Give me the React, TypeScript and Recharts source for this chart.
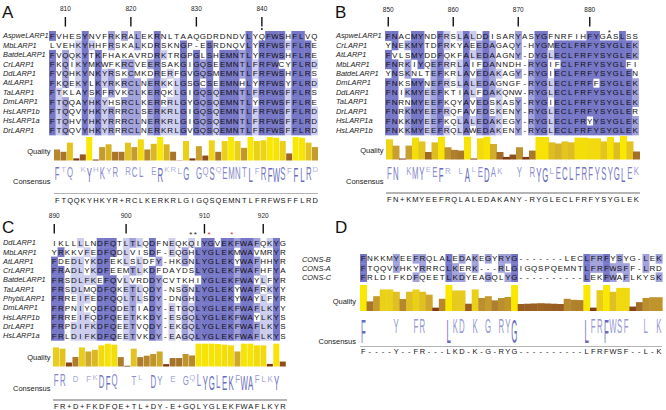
import React from 'react';
import { ScatterChart, Scatter, BarChart, Bar, Cell, XAxis, YAxis } from 'recharts';

const FONT = '"Liberation Sans", Arial, Helvetica, sans-serif';

// ---------- panel A ----------
const namesA = ['AspweLARP1', 'MbLARP1', 'BatdeLARP1', 'CrLARP1', 'DdLARP1', 'AtLARP1', 'TaLARP1', 'DmLARP1', 'HsLARP1b', 'HsLARP1a', 'DrLARP1'];
const seqA = [
  'FVHESYNVFRKRALEKRNLTAAQGDRDNDVLYQFWSHFLVQ',
  'LVEHKYHHFRSKALKDRSKNGP-ESRDNQVLYRFWSFFLRE',
  'FVQQKYTKFHAKAVRDRKTRGPGLSHEMNTLYRFWSHFLRE',
  'FKQIKYMKWFKRCVEERSAKGIGQSEEMNTLFRFWCYFLRD',
  'FVQHKYNKYRSKCMKDRERFGVGQSMEMNTLFRFWSHFLRS',
  'FKQEKYLKYRKRCLNERKKLGSGCSEEMNHLYRFWSYFLRD',
  'FTKLAYSKFRVKCLKERQKLGIGQSQEMNTLFRFWSFFLRS',
  'FTQQAYHKYHSRCLKERRRLGYGQSQEMNTLYRFWSFFLRE',
  'FTQQVYHKYRRRCLSERKRLGIGQSQEMNTLFRFWSFFLRD',
  'FTQHVYHKYRRRCLNERKRLGIGQSQEMNTLFRFWSFFLRD',
  'FTQQVYHKYRRRCLNERKRLGVGQSQEMNTLFRFWSFFLRD',
];
const consA = 'FTQQKYHKYR+RCLKERKRLGIGQSQEMNTLFRFWSFFLRD';
const qualityA = [47, 37, 76, 9, 26, 100, 4, 57, 69, 37, 37, 76, 57, 90, 47, 71, 100, 69, 37, 1, 83, 9, 61, 21, 86, 37, 83, 100, 83, 54, 100, 83, 86, 100, 97, 83, 30, 100, 97, 76, 57];
const tickColsA = [2, 12, 22, 32];
const tickLabelsA = ['810', '820', '830', '840'];
const marksA = [{ c: 32, kind: 'dot' }];

// ---------- panel B ----------
const namesB = ['AspweLARP1', 'CrLARP1', 'AtLARP1', 'MbLARP1', 'BatdeLARP1', 'DmLARP1', 'DdLARP1', 'TaLARP1', 'DrLARP1', 'HsLARP1a', 'HsLARP1b'];
const seqB = [
  'FNACMYNDFRSLALDDISARYASYGFNRFIHFYGASLSS',
  'YNEKMYTDFRKYAEEDAGAQY-HYGMECLFRFYSYGLEK',
  'FVLSMYDDFQKFALEDAAGNY-DYGLECLFRFYSYGLEK',
  'FNRKIYQEFRRLAIFDANNDH-RYGIFCLFRFYSYGLFI',
  'YNSKNLTEFKRLAVEDAKAGY-RYGIECLFRFYSYGLEN',
  'FNKSMYNEFRSLALEDAGNGF-RYGLECLFRFFSYGLEK',
  'FNIKMYEEFKTIALFDAKQNW-RYGLECLFRFYSYGLEK',
  'FNRNMYEEFKQYAVEDSKASY-RYGIECLFRFYSYGLEK',
  'FNRKMYEEFRQFAVEDSKENY-RYGLECLFRFYSYGLER',
  'FNKKMYEEFKQLALEDAKEGY-RYGLECLFRYYSYGLEK',
  'FNKKMYEEFRQLAWEDAKENY-RYGLECLFRFYSYGLEK',
];
const consB = 'FN+KMYEEFRQLALEDAKANY-RYGLECLFRFYSYGLEK';
const qualityB = [86, 59, 4, 59, 93, 77, 32, 73, 97, 52, 41, 38, 97, 4, 90, 97, 66, 32, 11, 21, 52, 11, 38, 96, 96, 73, 68, 77, 73, 93, 93, 90, 90, 77, 96, 73, 100, 77, 34];
const tickColsB = [0, 10, 20, 31];
const tickLabelsB = ['850', '860', '870', '880'];
const marksB = [{ c: 34, kind: 'star' }];

// ---------- panel C ----------
const namesC = ['DdLARP1', 'MbLARP1', 'AtLARP1', 'CrLARP1', 'BatdeLARP1', 'TaLARP1', 'PhyblLARP1', 'DmLARP1', 'HsLARP1b', 'DrLARP1', 'HsLARP1a'];
const seqC = [
  'IKLLLLNDFQTLTLQDFNEQKQIYGVEKFWAFQKYG',
  'YRKKVFEDFQDLVISDF-EQGHLYGLEKMWAVMRYR',
  'FDEDLYKDFEKLSLDFY-HKGNLYGLEKYWAFHHYR',
  'FRADLYKDFEEMTLKDFDAYDSLYGLEKFWAFHFYA',
  'FRSDLFKEFQVLVRDDYCVTKHIYGLEKFWAYLFYR',
  'FRSDLMQDFQKETLQDY-NSGNLYGLEKYWAFRKYY',
  'FRREIFEDFQQLTLSDY-DNGHLYGLEKYWAYLFYR',
  'FRPNIYQDFQDETIADY-ETGQLYGLEKFWAFLKYY',
  'FRREIFQDFQEETKKDY-ESGQLYGLEKFWAYLKYS',
  'FRPDIFKDFQEETVQDY-EKGQLYGLEKFWAFLKYS',
  'FRLDIFKDFQEETVKDY-EAGQLYGLEKFWAFLKYS',
];
const consC = 'FR+D+FKDFQE+TL+DY-E+GQLYGLEKFWAFLKYR';
const qualityC = [81, 76, 17, 40, 81, 64, 71, 90, 97, 93, 40, 3, 76, 40, 46, 53, 64, 10, 36, 36, 53, 47, 97, 97, 97, 96, 93, 90, 64, 97, 97, 90, 90, 11, 97, 21];
const tickColsC = [0, 11, 23, 32];
const tickLabelsC = ['890', '900', '910', '920'];
const marksC = [
  { c: 20.9, kind: 'blk' },
  { c: 21.6, kind: 'blk' },
  { c: 23.7, kind: 'red' },
  { c: 27.2, kind: 'red' },
];

// ---------- panel D ----------
const namesD = ['CONS-B', 'CONS-A', 'CONS-C'];
const seqD = [
  'FNKKMYEEFRQLALEDAKEGYRYG-------LECLFRFYSYG-LEK',
  'FTQQVYHKYRRRCLKERK---RLGIGQSPQEMNTLFRFWSFF-LRD',
  'FRLDIFKDFQEETLKDYEAGQLYG----------LEKFWAFLKYSK',
];
const consD = 'F----Y--FR---LKD-K-G-RYG----------LFRFWSF--L-K';
const qualityD = [100, 37, 57, 83, 83, 74, 46, 74, 83, 74, 63, 13, 47, 100, 79, 79, 28, 83, 50, 57, 41, 50, 54, 100, 27, 28, 29, 30, 29, 28, 27, 47, 43, 42, 100, 13, 80, 100, 74, 89, 89, 17, 34, 50, 53, 53];

// ---------- layout ----------
const layoutA = { x: 49, pitch: 6.55, ax: 53.5, ap: 6.45, head: 0.5, row0: 35.5, rowH: 9.45, qTop: 136.5, qH: 23.5, logoTop: 167, logoH: 15, lineY: 193.5, consY: 199.5, nameX: 3, labelX: 50.5, tag: 'A', tagX: 2, tagY: 18 };
const layoutB = { x: 385.3, pitch: 6.5, ax: 386, ap: 6.5, head: 0.5, row0: 35.5, rowH: 9.45, qTop: 136, qH: 23.5, logoTop: 167, logoH: 15, lineY: 193, consY: 199, nameX: 336, labelX: 383.5, tag: 'B', tagX: 335, tagY: 18 };
const layoutC = { x: 51, pitch: 6.53, ax: 53.3, ap: 6.48, head: 207.5, row0: 242.5, rowH: 9.3, qTop: 343, qH: 23.5, logoTop: 375, logoH: 14.5, lineY: 400, consY: 405.5, nameX: 3, labelX: 50.5, tag: 'C', tagX: 2, tagY: 233 };
const layoutD = { x: 359.7, pitch: 6.57, ax: 359.7, ap: 6.57, head: -1, row0: 259, rowH: 9.2, qTop: 285, qH: 26, logoTop: 318.5, logoH: 23.5, lineY: 346.5, consY: 350.5, nameX: 302, labelX: 356, tag: 'D', tagX: 335, tagY: 233 };

type Lay = typeof layoutA;

const PAD = 8;
const MP = { top: PAD, right: PAD, bottom: PAD, left: PAD };
const PID = ['#7777c7', '#a1a1db', '#cdcdee'];

// percentage identity per column (Jalview-style shading)
function columnStats(seqs: string[]) {
  const n = seqs[0].length;
  return Array.from({ length: n }, (_, c) => {
    const counts: Record<string, number> = {};
    for (const s of seqs) {
      const ch = s[c];
      if (ch !== '-') counts[ch] = (counts[ch] || 0) + 1;
    }
    const best = Math.max(0, ...Object.values(counts));
    const top = Object.keys(counts).filter((k) => counts[k] === best);
    return { top, frac: best / seqs.length };
  });
}

function pidColor(ch: string, st: { top: string[]; frac: number }) {
  if (ch === '-' || !st.top.includes(ch)) return null;
  if (st.frac > 0.8) return PID[0];
  if (st.frac > 0.6) return PID[1];
  if (st.frac > 0.4) return PID[2];
  return null;
}

const QSTOPS: [number, number[]][] = [
  [0, [106, 30, 14]],
  [0.2, [140, 74, 28]],
  [0.4, [173, 125, 44]],
  [0.6, [201, 160, 46]],
  [0.8, [232, 204, 28]],
  [1, [251, 232, 0]],
];

function qualColor(v: number) {
  const t = Math.max(0, Math.min(1, v / 100));
  for (let i = 1; i < QSTOPS.length; i++) {
    const [t1, c1] = QSTOPS[i];
    const [t0, c0] = QSTOPS[i - 1];
    if (t <= t1) {
      const k = (t - t0) / (t1 - t0);
      const c = c0.map((v0, j) => Math.round(v0 + (c1[j] - v0) * k));
      return `rgb(${c[0]},${c[1]},${c[2]})`;
    }
  }
  return 'rgb(251,232,0)';
}

function logoColor(f: number) {
  const t = Math.max(0, Math.min(1, (f - 0.4) / 0.6));
  const a = [186, 186, 228];
  const b = [104, 108, 192];
  const c = a.map((v, i) => Math.round(v + (b[i] - v) * t));
  return `rgb(${c[0]},${c[1]},${c[2]})`;
}

// wrapper that offsets a padded chart so its plot area starts at (left, top)
function At({ left, top, children }: { left: number; top: number; children: React.ReactNode }) {
  return <div style={{ position: 'absolute', left: left - PAD, top: top - PAD }}>{children}</div>;
}

function HeaderStrip({ lay, n, cols, labels, marks }: { lay: Lay; n: number; cols: number[]; labels: string[]; marks: { c: number; kind: string }[] }) {
  const data = [
    ...cols.map((c, i) => ({ c, r: 0, kind: 'tick', label: labels[i] })),
    ...marks.map((m) => ({ c: m.c, r: 0, kind: m.kind, label: '' })),
  ];
  return (
    <At left={lay.x} top={lay.head}>
      <ScatterChart width={n * lay.pitch + 2 * PAD} height={30 + 2 * PAD} margin={MP}>
        <XAxis type="number" dataKey="c" domain={[-0.5, n - 0.5]} hide />
        <YAxis type="number" dataKey="r" domain={[-0.5, 0.5]} hide />
        <Scatter
          data={data}
          isAnimationActive={false}
          shape={(p: any) => {
            const d = p.payload;
            const { cx, cy } = p;
            if (d.kind === 'tick') {
              return (
                <g>
                  <text x={cx} y={cy - 4.5} textAnchor="middle" fontSize={6.5} fontFamily={FONT} fill="#222">{d.label}</text>
                  <line x1={cx} x2={cx} y1={cy + 1} y2={cy + 10.5} stroke="#111" strokeWidth={1.4} />
                </g>
              );
            }
            if (d.kind === 'dot') return <circle cx={cx} cy={cy + 13} r={1} fill="#222" />;
            if (d.kind === 'star') {
              return <text x={cx} y={cy + 18.5} textAnchor="middle" fontSize={8} fontFamily={FONT} fill="#222">*</text>;
            }
            return (
              <text x={cx} y={cy + 14} textAnchor="middle" fontSize={8} fontFamily={FONT} fill={d.kind === 'red' ? '#e2301f' : '#222'}>*</text>
            );
          }}
        />
      </ScatterChart>
    </At>
  );
}

function GridChart({ seqs, lay }: { seqs: string[]; lay: Lay }) {
  const n = seqs[0].length;
  const rows = seqs.length;
  const st = columnStats(seqs);
  const cells: { c: number; r: number; ch: string; fill: string | null }[] = [];
  seqs.forEach((s, r) => s.split('').forEach((ch, c) => cells.push({ c, r, ch, fill: pidColor(ch, st[c]) })));
  return (
    <At left={lay.x} top={lay.row0 - lay.rowH / 2}>
      <ScatterChart width={n * lay.pitch + 2 * PAD} height={rows * lay.rowH + 2 * PAD} margin={MP}>
        <XAxis type="number" dataKey="c" domain={[-0.5, n - 0.5]} hide />
        <YAxis type="number" dataKey="r" domain={[-0.5, rows - 0.5]} reversed hide />
        <Scatter
          data={cells}
          isAnimationActive={false}
          shape={(p: any) => {
            const d = p.payload;
            return (
              <g>
                {d.fill && (
                  <rect x={p.cx - lay.pitch / 2} y={p.cy - lay.rowH / 2} width={lay.pitch + 0.4} height={lay.rowH + 0.4} fill={d.fill} />
                )}
                <text x={p.cx} y={p.cy + 2.9} textAnchor="middle" fontSize={8} fontFamily={FONT} fill="#111">{d.ch}</text>
              </g>
            );
          }}
        />
      </ScatterChart>
    </At>
  );
}

function QualityChart({ values, lay }: { values: number[]; lay: Lay }) {
  const data = values.map((q, c) => ({ c, q }));
  return (
    <At left={lay.ax} top={lay.qTop}>
      <BarChart width={values.length * lay.ap + 2 * PAD} height={lay.qH + 2 * PAD} data={data} margin={MP} barCategoryGap={0} barGap={0}>
        <XAxis dataKey="c" hide />
        <YAxis domain={[0, 100]} hide />
        <Bar dataKey="q" isAnimationActive={false}>
          {data.map((d) => (
            <Cell key={d.c} fill={qualColor(d.q)} />
          ))}
        </Bar>
      </BarChart>
    </At>
  );
}

function LogoChart({ seqs, cons, lay }: { seqs: string[]; cons: string; lay: Lay }) {
  const n = cons.length;
  const rows = seqs.length;
  const data = cons
    .split('')
    .map((ch, c) => ({ c, r: 0, ch, f: /[A-Z]/.test(ch) ? seqs.filter((s) => s[c] === ch).length / rows : 0 }))
    .filter((d) => d.f > 0.4);
  return (
    <At left={lay.ax} top={lay.logoTop}>
      <ScatterChart width={n * lay.ap + 2 * PAD} height={lay.logoH + 2 * PAD} margin={MP}>
        <XAxis type="number" dataKey="c" domain={[-0.5, n - 0.5]} hide />
        <YAxis type="number" dataKey="r" domain={[-0.5, 0.5]} hide />
        <Scatter
          data={data}
          isAnimationActive={false}
          shape={(p: any) => {
            const d = p.payload;
            const h = lay.logoH * Math.pow(d.f, 1.3);
            const top = p.cy - lay.logoH / 2;
            return (
              <text
                transform={`translate(${p.cx},${top}) scale(0.78,${h / 7.16})`}
                x={0}
                y={7.16}
                textAnchor="middle"
                fontSize={10}
                fontFamily={FONT}
                fill={logoColor(d.f)}
              >
                {d.ch}
              </text>
            );
          }}
        />
      </ScatterChart>
    </At>
  );
}

function ConsensusLine({ cons, lay }: { cons: string; lay: Lay }) {
  const n = cons.length;
  const data = cons.split('').map((ch, c) => ({ c, r: 0, ch }));
  return (
    <>
      <div style={{ position: 'absolute', left: lay.ax, top: lay.lineY - 0.75, width: n * lay.ap, height: 1.5, background: '#b4b4b4' }} />
      <At left={lay.ax} top={lay.consY - 5}>
        <ScatterChart width={n * lay.ap + 2 * PAD} height={10 + 2 * PAD} margin={MP}>
          <XAxis type="number" dataKey="c" domain={[-0.5, n - 0.5]} hide />
          <YAxis type="number" dataKey="r" domain={[-0.5, 0.5]} hide />
          <Scatter
            data={data}
            isAnimationActive={false}
            shape={(p: any) => (
              <text x={p.cx} y={p.cy + 2.7} textAnchor="middle" fontSize={7.5} fontFamily={FONT} fill="#111">{p.payload.ch}</text>
            )}
          />
        </ScatterChart>
      </At>
    </>
  );
}

function Labels({ names, lay }: { names: string[]; lay: Lay }) {
  const qMid = lay.qTop + lay.qH * 0.62;
  const cMid = lay.logoTop + lay.logoH * 0.95;
  return (
    <g fontFamily={FONT}>
      <text x={lay.tagX} y={lay.tagY} fontSize={17} fill="#111">{lay.tag}</text>
      {names.map((nm, i) => (
        <text key={nm + i} x={lay.nameX} y={lay.row0 + i * lay.rowH + 2.7} fontSize={7.4} fontStyle="italic" fill="#222">{nm}</text>
      ))}
      <text x={lay.labelX} y={qMid + 2.7} fontSize={7.5} textAnchor="end" fill="#222">Quality</text>
      <text x={lay.labelX} y={cMid + 2.7} fontSize={7.5} textAnchor="end" fill="#222">Consensus</text>
    </g>
  );
}

function PanelView({ seqs, cons, quality, lay, ticks }: { seqs: string[]; cons: string; quality: number[]; lay: Lay; ticks?: { cols: number[]; labels: string[]; marks: { c: number; kind: string }[] } }) {
  return (
    <>
      {ticks && <HeaderStrip lay={lay} n={seqs[0].length} cols={ticks.cols} labels={ticks.labels} marks={ticks.marks} />}
      <GridChart seqs={seqs} lay={lay} />
      <QualityChart values={quality} lay={lay} />
      <LogoChart seqs={seqs} cons={cons} lay={lay} />
      <ConsensusLine cons={cons} lay={lay} />
    </>
  );
}

export default function App() {
  return (
    <div style={{ position: 'absolute', left: 0, top: 0, width: 666, height: 410, background: '#fff', overflow: 'hidden', fontFamily: FONT }}>
      <svg width={666} height={410} style={{ position: 'absolute', left: 0, top: 0 }}>
        <Labels names={namesA} lay={layoutA} />
        <Labels names={namesB} lay={layoutB} />
        <Labels names={namesC} lay={layoutC} />
        <Labels names={namesD} lay={layoutD} />
      </svg>
      <PanelView seqs={seqA} cons={consA} quality={qualityA} lay={layoutA} ticks={{ cols: tickColsA, labels: tickLabelsA, marks: marksA }} />
      <PanelView seqs={seqB} cons={consB} quality={qualityB} lay={layoutB} ticks={{ cols: tickColsB, labels: tickLabelsB, marks: marksB }} />
      <PanelView seqs={seqC} cons={consC} quality={qualityC} lay={layoutC} ticks={{ cols: tickColsC, labels: tickLabelsC, marks: marksC }} />
      <PanelView seqs={seqD} cons={consD} quality={qualityD} lay={layoutD} />
    </div>
  );
}
